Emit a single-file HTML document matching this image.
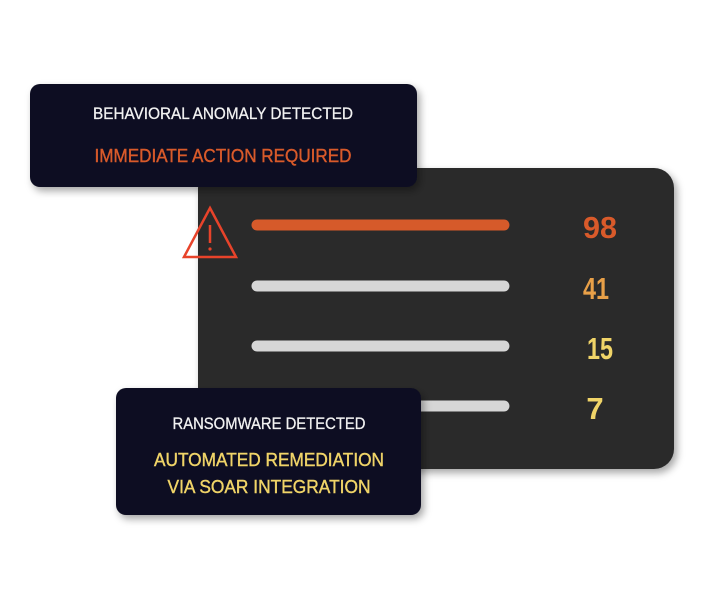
<!DOCTYPE html>
<html><head><meta charset="utf-8"><style>
html,body{margin:0;padding:0;background:#fff;width:724px;height:600px;overflow:hidden}
svg text{font-family:"Liberation Sans Narrow","Liberation Sans",sans-serif}
</style></head><body>
<svg width="724" height="600" viewBox="0 0 724 600" xmlns="http://www.w3.org/2000/svg">
<defs>
<filter id="sh" x="-10%" y="-10%" width="130%" height="130%">
<feDropShadow dx="3" dy="4" stdDeviation="4" flood-color="#000" flood-opacity="0.35"/>
</filter>
</defs>
<!-- main panel -->
<rect x="198" y="168" width="476" height="301" rx="20" fill="#2a2a2a" filter="url(#sh)"/>
<!-- bars -->
<line x1="257" y1="225" x2="504" y2="225" stroke="#d65a2a" stroke-width="11" stroke-linecap="round"/>
<line x1="257" y1="286" x2="504" y2="286" stroke="#d6d6d6" stroke-width="11" stroke-linecap="round"/>
<line x1="257" y1="346" x2="504" y2="346" stroke="#d6d6d6" stroke-width="11" stroke-linecap="round"/>
<line x1="257" y1="406" x2="504" y2="406" stroke="#d6d6d6" stroke-width="11" stroke-linecap="round"/>
<!-- numbers -->
<text x="600" y="238" font-size="31" font-weight="bold" fill="#d95a2a" text-anchor="middle" textLength="34" lengthAdjust="spacingAndGlyphs">98</text>
<text x="596" y="299" font-size="31" font-weight="bold" fill="#e8a048" text-anchor="middle" textLength="26" lengthAdjust="spacingAndGlyphs">41</text>
<text x="600" y="359" font-size="31" font-weight="bold" fill="#f0d468" text-anchor="middle" textLength="26" lengthAdjust="spacingAndGlyphs">15</text>
<text x="595" y="419" font-size="31" font-weight="bold" fill="#f0d468" text-anchor="middle">7</text>
<!-- warning triangle -->
<polygon points="210,208 236,257 184,257" fill="none" stroke="#e8432a" stroke-width="2.5"/>
<line x1="210" y1="225" x2="210" y2="243" stroke="#e8432a" stroke-width="2.5"/>
<circle cx="210" cy="249" r="1.6" fill="#e8432a"/>
<!-- top box -->
<rect x="30" y="84" width="387" height="103" rx="10" fill="#0d0e22" filter="url(#sh)"/>
<text x="223" y="119" font-size="17" fill="#f2f2f2" stroke="#f2f2f2" stroke-width="0.3" text-anchor="middle" textLength="260" lengthAdjust="spacingAndGlyphs">BEHAVIORAL ANOMALY DETECTED</text>
<text x="223" y="162" font-size="18" fill="#d95a2a" stroke="#d95a2a" stroke-width="0.4" text-anchor="middle" textLength="257" lengthAdjust="spacingAndGlyphs">IMMEDIATE ACTION REQUIRED</text>
<!-- bottom box -->
<rect x="116" y="388" width="305" height="127" rx="10" fill="#0d0e22" filter="url(#sh)"/>
<text x="269" y="429" font-size="17" fill="#f2f2f2" stroke="#f2f2f2" stroke-width="0.3" text-anchor="middle" textLength="193" lengthAdjust="spacingAndGlyphs">RANSOMWARE DETECTED</text>
<text x="269" y="466" font-size="18" fill="#f0d468" stroke="#f0d468" stroke-width="0.4" text-anchor="middle" textLength="230" lengthAdjust="spacingAndGlyphs">AUTOMATED REMEDIATION</text>
<text x="269" y="493" font-size="18" fill="#f0d468" stroke="#f0d468" stroke-width="0.4" text-anchor="middle" textLength="203" lengthAdjust="spacingAndGlyphs">VIA SOAR INTEGRATION</text>
</svg>
</body></html>
